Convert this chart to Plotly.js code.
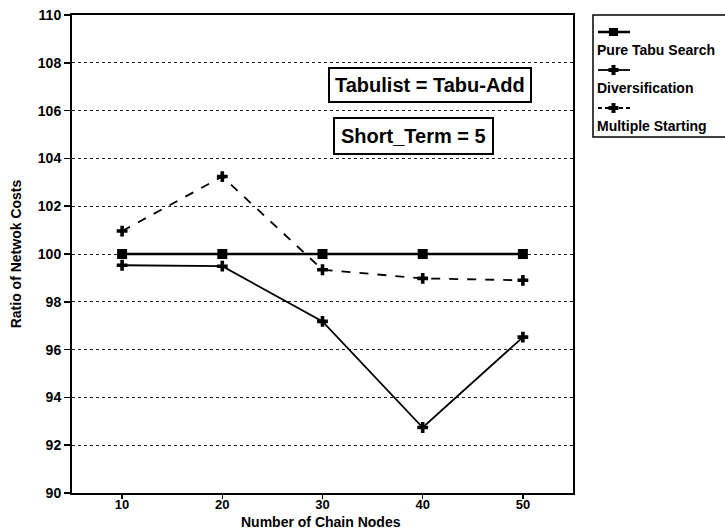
<!DOCTYPE html>
<html>
<head>
<meta charset="utf-8">
<script src="https://cdn.plot.ly/plotly-3.0.1.min.js"></script>
<style>html,body{margin:0;padding:0;background:#fff;}#chart{width:725px;height:530px;}</style>
</head>
<body>
<div id="chart"></div>
<script>
const nodes = [10, 20, 30, 40, 50];
const pureTabu = [100, 100, 100, 100, 100];
const diversification = [99.53, 99.49, 97.18, 92.74, 96.52];
const multipleStarting = [100.96, 103.24, 99.34, 98.98, 98.9];
const seriesNames = ["Pure Tabu Search", "Diversification", "Multiple Starting"];
const yTicks = [90, 92, 94, 96, 98, 100, 102, 104, 106, 108, 110];
const xTicks = [10, 20, 30, 40, 50];
const boxTexts = ["Tabulist = Tabu-Add", "Short_Term = 5"];

const FONT = "Liberation Sans, Arial, sans-serif";
const L = 72, R = 573, T = 15, B = 493;
const px = p => (p - L) / (R - L);
const py = p => (B - p) / (B - T);

const traces = [
  {x: nodes, y: pureTabu, name: seriesNames[0], mode: "lines+markers",
   line: {color: "#000", width: 2.5}, marker: {symbol: "square", size: 10, color: "#000"}},
  {x: nodes, y: diversification, name: seriesNames[1], mode: "lines+markers",
   line: {color: "#000", width: 1.8}, marker: {symbol: "cross", size: 9, color: "#000"}},
  {x: nodes, y: multipleStarting, name: seriesNames[2], mode: "lines+markers",
   line: {color: "#000", width: 1.8, dash: "dash"}, marker: {symbol: "cross", size: 9, color: "#000"}}
];

// custom legend (sample above the label, like the original)
const shapes = [
  {type: "rect", xref: "paper", yref: "paper", x0: px(593), x1: px(740), y0: py(137), y1: py(15),
   line: {color: "#000", width: 1.5}, fillcolor: "rgba(0,0,0,0)"}
];
const annotations = [];
const legendRows = [32, 70, 108];
legendRows.forEach((yy, i) => {
  shapes.push({type: "line", xref: "paper", yref: "paper", x0: px(598), x1: px(630), y0: py(yy), y1: py(yy),
    line: {color: "#000", width: i === 0 ? 2.5 : 1.8, dash: i === 2 ? "4px,3px" : "solid"}});
  if (i === 0) {
    shapes.push({type: "rect", xref: "paper", yref: "paper", x0: px(609), x1: px(618), y0: py(yy + 4), y1: py(yy - 4),
      line: {color: "#000", width: 0}, fillcolor: "#000"});
  } else {
    shapes.push({type: "rect", xref: "paper", yref: "paper", x0: px(611.5), x1: px(615.5), y0: py(yy + 5), y1: py(yy - 5),
      line: {color: "#000", width: 0}, fillcolor: "#000"});
    shapes.push({type: "rect", xref: "paper", yref: "paper", x0: px(608.5), x1: px(618.5), y0: py(yy + 2), y1: py(yy - 2),
      line: {color: "#000", width: 0}, fillcolor: "#000"});
  }
  annotations.push({xref: "paper", yref: "paper", x: px(595), y: py(yy + 18), xanchor: "left", yanchor: "middle",
    text: seriesNames[i], showarrow: false, font: {family: FONT, size: 14, weight: "bold", color: "#000"}});
});

annotations.push({xref: "paper", yref: "paper", x: px(429.5), y: py(84.5), xanchor: "center", yanchor: "middle",
  text: boxTexts[0], showarrow: false,
  font: {family: FONT, size: 20, weight: "bold", color: "#000"}, bordercolor: "#000", borderwidth: 2, borderpad: 5, bgcolor: "#fff"});
annotations.push({xref: "paper", yref: "paper", x: px(413), y: py(136), xanchor: "center", yanchor: "middle",
  text: boxTexts[1], showarrow: false,
  font: {family: FONT, size: 20, weight: "bold", color: "#000"}, bordercolor: "#000", borderwidth: 2, borderpad: 6, bgcolor: "#fff"});
// x-axis title placed just under the tick labels, as in the original
annotations.push({xref: "paper", yref: "paper", x: px(321), y: py(522), xanchor: "center", yanchor: "middle",
  text: "Number of Chain Nodes", showarrow: false, font: {family: FONT, size: 14, weight: "bold", color: "#000"}});

const layout = {
  width: 725, height: 530,
  margin: {l: L, r: 725 - R, t: T, b: 530 - B},
  paper_bgcolor: "#fff", plot_bgcolor: "#fff",
  showlegend: false,
  font: {family: FONT, color: "#000"},
  xaxis: {
    range: [5, 55], tickvals: xTicks, ticks: "outside", ticklen: 4, tickwidth: 1.5, tickcolor: "#000",
    ticklabelstandoff: -6,
    showgrid: false, zeroline: false, showline: true, linecolor: "#000", linewidth: 2, mirror: true,
    tickfont: {family: FONT, size: 13, weight: "bold", color: "#000"}
  },
  yaxis: {
    range: [90, 110], tickvals: yTicks, ticks: "outside", ticklen: 6, tickwidth: 1.5, tickcolor: "#000",
    showgrid: true, gridcolor: "#222", griddash: "dot", gridwidth: 1,
    zeroline: false, showline: true, linecolor: "#000", linewidth: 2, mirror: true,
    tickfont: {family: FONT, size: 14, weight: "bold", color: "#000"},
    title: {text: "Ratio of Netwok Costs", font: {family: FONT, size: 14, weight: "bold", color: "#000"}, standoff: 13}
  },
  shapes: shapes,
  annotations: annotations
};

Plotly.newPlot("chart", traces, layout, {displayModeBar: false, staticPlot: true});
</script>
</body>
</html>
